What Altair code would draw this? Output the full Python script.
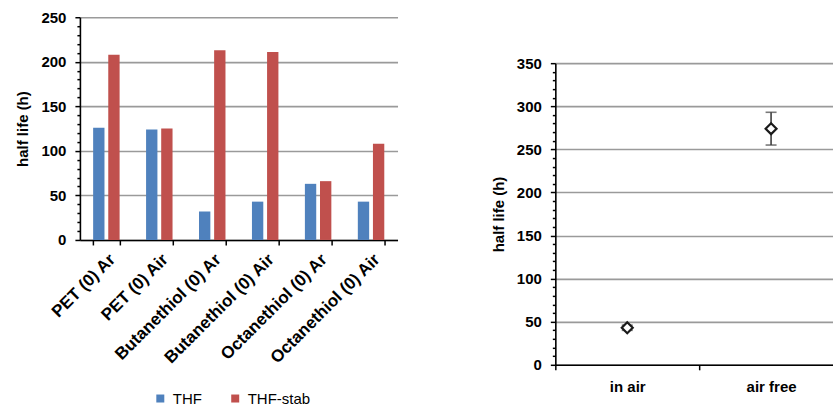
import altair as alt
import pandas as pd

# ---- data: left panel ----
categories = ["PET (0) Ar", "PET (0) Air", "Butanethiol (0) Ar",
              "Butanethiol (0) Air", "Octanethiol (0) Ar", "Octanethiol (0) Air"]
solvents = ["THF", "THF-stab"]
thf = [126, 124, 32, 43, 63, 43]
thf_stab = [208, 125, 213, 211, 66, 108]

# ---- data: right panel ----
conditions = ["in air", "air free"]
half_life = [43, 274]
half_life_err = [3, 19]

FONT = "Liberation Sans"

rows = []
for c, a, b in zip(categories, thf, thf_stab):
    rows.append({"category": c, "solvent": "THF", "half_life": a})
    rows.append({"category": c, "solvent": "THF-stab", "half_life": b})
df_bars = pd.DataFrame(rows)

df_pts = pd.DataFrame({
    "condition": conditions,
    "half_life": half_life,
    "low": [v - e for v, e in zip(half_life, half_life_err)],
    "high": [v + e for v, e in zip(half_life, half_life_err)],
})

major = "datum.value % 50 === 0"


def y_axis(maxv):
    return alt.Axis(
        title="half life (h)",
        values=list(range(0, maxv + 1, 10)),
        labelExpr=f"{major} ? datum.label : ''",
        tickSize={"condition": {"test": major, "value": 5}, "value": 3},
        gridOpacity={"condition": {"test": major, "value": 1}, "value": 0},
        gridColor="#9a9a9a", gridWidth=1.6,
        tickColor="#000", tickWidth=1.5,
        domainColor="#000", domainWidth=1.6,
        labelFont=FONT, labelFontSize=15, labelFontWeight="bold", labelColor="#000",
        labelPadding=9,
        titleFont=FONT, titleFontSize=15, titleFontWeight="bold", titleColor="#000",
        titlePadding=10,
    )


left = alt.Chart(df_bars).mark_bar().encode(
    x=alt.X("category:N", sort=categories,
            scale=alt.Scale(paddingInner=0.5, paddingOuter=0.25),
            axis=alt.Axis(title=None, labelAngle=-45, labelAlign="right",
                          labelBaseline="top", tickBand="extent",
                          tickSize=5, tickColor="#000", tickWidth=1.5,
                          domainColor="#000", domainWidth=1.6,
                          labelFont=FONT, labelFontSize=17, labelFontWeight="bold",
                          labelColor="#000", labelPadding=6)),
    xOffset=alt.XOffset("solvent:N", sort=solvents,
                        scale=alt.Scale(paddingInner=0.25, paddingOuter=0)),
    y=alt.Y("half_life:Q", scale=alt.Scale(domain=[0, 250], nice=False),
            axis=y_axis(250)),
    color=alt.Color("solvent:N",
                    scale=alt.Scale(domain=solvents, range=["#4F81BD", "#C0504D"]),
                    legend=alt.Legend(title=None, orient="none", direction="horizontal",
                                      legendX=73, legendY=374,
                                      symbolType="square", symbolSize=64,
                                      symbolStrokeWidth=0, columnPadding=25,
                                      labelFont=FONT, labelFontSize=15,
                                      labelColor="#000", labelOffset=5)),
).properties(width=318, height=223)

xr = alt.X("condition:N", sort=conditions,
           scale=alt.Scale(type="band", paddingInner=0, paddingOuter=0),
           axis=alt.Axis(title=None, labelAngle=0, tickBand="extent",
                         tickSize=5, tickColor="#000", tickWidth=1.5,
                         domainColor="#000", domainWidth=1.6,
                         labelFont=FONT, labelFontSize=15, labelFontWeight="bold",
                         labelColor="#000", labelPadding=10))

yscale_r = alt.Scale(domain=[0, 350], nice=False)
yax_r = y_axis(350)

base_r = alt.Chart(df_pts)
rule = base_r.mark_rule(color="#404040", strokeWidth=1.6).encode(
    x=xr,
    y=alt.Y("low:Q", scale=yscale_r, axis=yax_r),
    y2="high:Q",
)
cap_lo = base_r.mark_tick(color="#404040", thickness=1.6, size=11, orient="horizontal").encode(
    x=xr, y=alt.Y("low:Q", scale=yscale_r, axis=yax_r))
cap_hi = base_r.mark_tick(color="#404040", thickness=1.6, size=11, orient="horizontal").encode(
    x=xr, y=alt.Y("high:Q", scale=yscale_r, axis=yax_r))
pts = base_r.mark_point(shape="diamond", filled=True, fill="white", stroke="#1a1a1a",
                        strokeWidth=2.2, size=120, opacity=1).encode(
    x=xr, y=alt.Y("half_life:Q", scale=yscale_r, axis=yax_r))

right = alt.layer(rule, cap_lo, cap_hi, pts).properties(width=288, height=302)

# invisible spacer that pushes the right panel down
spacer = alt.Chart(pd.DataFrame({"s": [0]})).mark_point(opacity=0).encode(
    x=alt.value(0), y=alt.value(0)
).properties(width=288, height=1)

right_col = alt.vconcat(spacer, right, spacing=36)

chart = alt.hconcat(left, right_col, spacing=93).properties(
    padding={"left": 15, "top": 10, "right": -11, "bottom": 0},
    background="white",
).configure_view(strokeWidth=0, stroke="transparent")

chart.save("out.html", embed_options={"renderer": "svg", "actions": False})
